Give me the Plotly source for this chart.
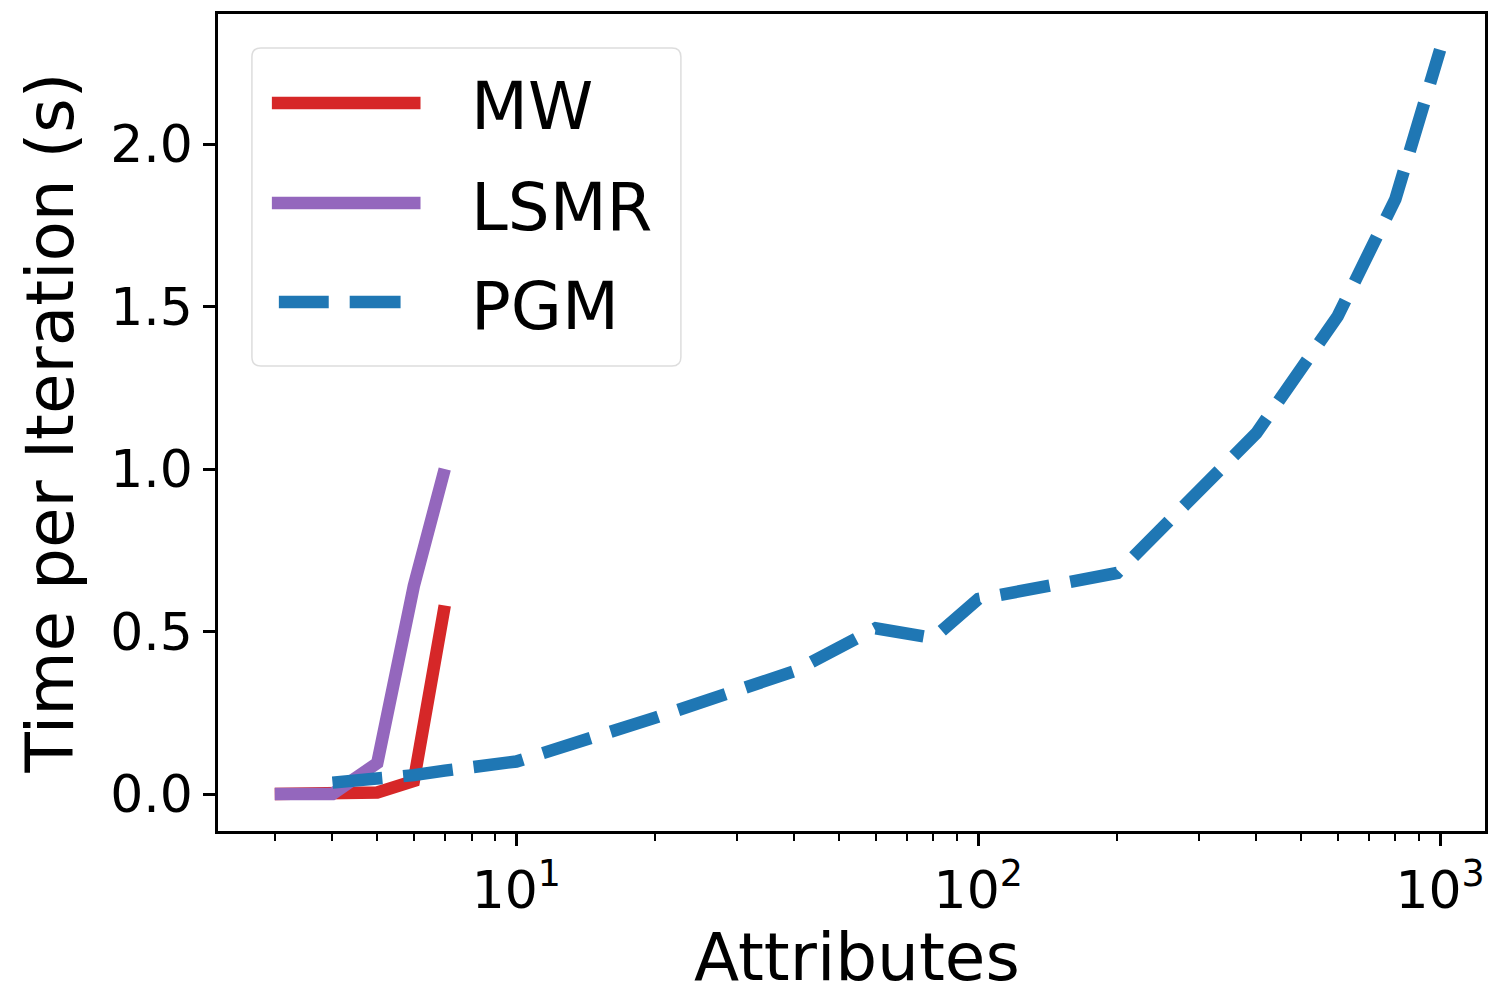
import plotly.graph_objects as go

# ---- data ----
mw_x = [3, 4, 5, 6, 7]
mw_y = [0.0, 0.0, 0.005, 0.04, 0.58]
lsmr_x = [3, 4, 5, 6, 7]
lsmr_y = [0.0, 0.0, 0.095, 0.64, 1.0]
pgm_x = [4, 5, 6, 7, 10, 20, 40, 60, 80, 100, 200, 400, 600, 800, 1000]
pgm_y = [0.035, 0.045, 0.058, 0.072, 0.1, 0.235, 0.378, 0.51, 0.48, 0.6, 0.68, 1.11, 1.47, 1.83, 2.29]

series_names = ["MW", "LSMR", "PGM"]
series_colors = ["#d62728", "#9467bd", "#1f77b4"]
x_tickvals = [10, 100, 1000]
x_ticktext = ["10<sup>1</sup>", "10<sup>2</sup>", "10<sup>3</sup>"]
y_tickvals = [0.0, 0.5, 1.0, 1.5, 2.0]
y_ticktext = ["0.0", "0.5", "1.0", "1.5", "2.0"]
x_title = "Attributes"
y_title = "Time per Iteration (s)"

FONT = "DejaVu Sans"
LW = 12.5

fig = go.Figure()
fig.add_trace(go.Scatter(x=mw_x, y=mw_y, mode="lines", name=series_names[0],
                         line=dict(color=series_colors[0], width=LW), showlegend=False))
fig.add_trace(go.Scatter(x=lsmr_x, y=lsmr_y, mode="lines", name=series_names[1],
                         line=dict(color=series_colors[1], width=LW), showlegend=False))
fig.add_trace(go.Scatter(x=pgm_x, y=pgm_y, mode="lines", name=series_names[2],
                         line=dict(color=series_colors[2], width=LW, dash="50px,21px"),
                         showlegend=False))

# ---- manual legend (matplotlib style) ----
W, H = 1270.0, 817.0  # plot area size in px
X0, Y0 = 218.0, 831.0  # plot area left / bottom in px


def px(x):
    return (x - X0) / W


def py(y):
    return (Y0 - y) / H


shapes = []
lx0, lx1, ly0, ly1 = px(252), px(682), py(366), py(48)
rx, ry = 9 / W, 9 / H
path = (f"M {lx0+rx},{ly0} L {lx1-rx},{ly0} Q {lx1},{ly0} {lx1},{ly0+ry} "
        f"L {lx1},{ly1-ry} Q {lx1},{ly1} {lx1-rx},{ly1} "
        f"L {lx0+rx},{ly1} Q {lx0},{ly1} {lx0},{ly1-ry} "
        f"L {lx0},{ly0+ry} Q {lx0},{ly0} {lx0+rx},{ly0} Z")
shapes.append(dict(type="path", xref="paper", yref="paper", path=path,
                   line=dict(color="#dddddd", width=1.5), fillcolor="rgba(255,255,255,0.8)",
                   layer="above"))
rows = [103, 203, 302]
for i, (name, col) in enumerate(zip(series_names, series_colors)):
    yy = py(rows[i])
    if i < 2:
        shapes.append(dict(type="line", xref="paper", yref="paper",
                           x0=px(272), x1=px(421), y0=yy, y1=yy,
                           line=dict(color=col, width=LW), layer="above"))
    else:
        for a, b in [(279, 329), (350, 401)]:
            shapes.append(dict(type="line", xref="paper", yref="paper",
                               x0=px(a), x1=px(b), y0=yy, y1=yy,
                               line=dict(color=col, width=LW), layer="above"))

annotations = []
for i, name in enumerate(series_names):
    annotations.append(dict(x=px(470), y=py(rows[i] + 4), xref="paper", yref="paper",
                            text=name, showarrow=False, xanchor="left", yanchor="middle",
                            font=dict(family=FONT, size=66, color="black")))
# x-axis title
annotations.append(dict(x=px(859), y=py(958), xref="paper", yref="paper",
                        text=x_title, showarrow=False, xanchor="center", yanchor="middle",
                        font=dict(family=FONT, size=66, color="black")))

fig.update_layout(
    width=1489, height=987,
    margin=dict(l=218, r=1, t=14, b=156),
    paper_bgcolor="white", plot_bgcolor="white",
    font=dict(family=FONT, color="black"),
    shapes=shapes, annotations=annotations,
    showlegend=False,
)

fig.update_xaxes(
    type="log", range=[0.3542, 3.0972],
    tickvals=x_tickvals, ticktext=x_ticktext,
    tickfont=dict(family=FONT, size=52, color="black"),
    ticks="outside", ticklen=12, tickwidth=2.5, tickcolor="black",
    minor=dict(ticks="outside", ticklen=7, tickwidth=1.5, tickcolor="black",
               dtick="D1", showgrid=False),
    showline=True, linewidth=2.5, linecolor="black", mirror=True,
    showgrid=False, zeroline=False,
)
fig.update_yaxes(
    range=[-0.1138, 2.4],
    tickvals=y_tickvals, ticktext=y_ticktext,
    tickfont=dict(family=FONT, size=52, color="black"),
    ticks="outside", ticklen=12, tickwidth=2.5, tickcolor="black",
    showline=True, linewidth=2.5, linecolor="black", mirror=True,
    showgrid=False, zeroline=False,
    title=dict(text=y_title, font=dict(family=FONT, size=66, color="black"),
               standoff=16),
)

fig.write_html(
    "out.html",
    config={"displayModeBar": False},
    post_script="document.body.style.margin='0';document.body.style.overflow='hidden';",
)
